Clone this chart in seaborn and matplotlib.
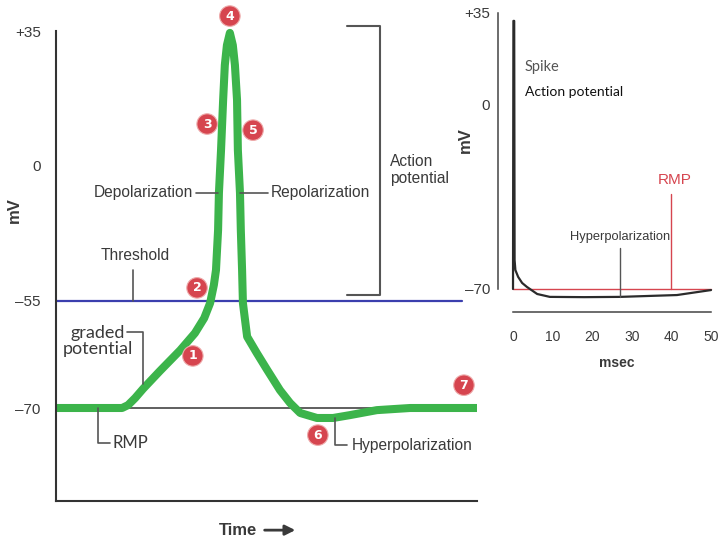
import matplotlib.pyplot as plt
import numpy as np
import seaborn as sns

# left panel: schematic action potential (time in arbitrary units, mV)
ap_time = [0, 15.7, 17.1, 18.8, 20.7, 24.7, 29.5, 33.0, 35.2, 36.6, 37.5, 38.0, 38.5, 38.7,
           39.2, 39.7, 40.1, 40.6, 41.3, 42.0, 42.5, 43.0, 43.2, 43.7, 43.9, 44.2, 44.4,
           45.4, 47.7, 50.1, 53.2, 55.6, 58.0, 62.0, 65.8, 69.8, 76.2, 84.1, 100]
ap_mv = [-70, -70, -69.6, -68.6, -67.3, -64.8, -61.9, -59.5, -57.4, -55.3, -48.5, -42.5, -26.3, -11.3,
         3.9, 17.0, 26.1, 31.3, 34.5, 31.3, 26.1, 17.0, 3.9, -11.3, -26.3, -42.5, -55.3,
         -60.0, -62.3, -64.6, -67.5, -69.3, -70.7, -71.4, -71.4, -71.0, -70.3, -70, -70]

# right panel: recorded spike (msec, mV)
rec_msec = [0, 0.1, 0.3, 0.4, 0.6, 1.3, 2.3, 3.5, 6.1, 9.3, 18, 27, 41.4, 50]
rec_mv = [-70, 32, 32, -59, -62.8, -65.4, -67.7, -69.2, -71.9, -73, -73.1, -73, -72.3, -70.4]

left_yticks = [-70, -55, 0, 35]
left_yticklabels = ["–70", "–55", "0", "+35"]
right_yticks = [-70, 0, 35]
right_yticklabels = ["–70", "0", "+35"]
right_xticks = [0, 10, 20, 30, 40, 50]

rmp = -70
threshold = -55

# the schematic is not to scale: every band of mV gets its own stretch
scale_mv = [-300, -83.04, -70, -55, 0, 35, 300]
scale_pos = [-1547, 0, 93, 200, 336, 470, 1485]

GREEN = "#3cb44b"
BLUE = "#3b3fae"
RED = "#d6454f"
INK = "#3a3a3a"
COND = ["Liberation Sans Narrow", "Liberation Sans", "DejaVu Sans"]
HUM = ["Lato", "DejaVu Sans"]

sns.set_style("white")
plt.rcParams["font.family"] = COND

fig = plt.figure(figsize=(7.2, 5.4), dpi=100)
ax = fig.add_axes([56 / 720, 39 / 540, 421 / 720, 470 / 540])
ax2 = fig.add_axes([498 / 720, 228 / 540, 215 / 720, 299 / 540])

# ---------------- left panel ----------------
ax.set_yscale("function", functions=(lambda v: np.interp(v, scale_mv, scale_pos),
                                     lambda p: np.interp(p, scale_pos, scale_mv)))
sns.lineplot(x=[0, 90], y=[rmp, rmp], ax=ax, color="#444444", linewidth=1.2)
sns.lineplot(x=[0, 96.4], y=[threshold, threshold], ax=ax, color=BLUE, linewidth=1.6)
line = sns.lineplot(x=ap_time, y=ap_mv, ax=ax, color=GREEN, linewidth=5.8,
                    estimator=None, sort=False)
line.lines[-1].set_solid_joinstyle("round")
line.lines[-1].set_solid_capstyle("butt")
line.lines[-1].set_clip_on(False)

ax.set_xlim(0, 100)
ax.set_ylim(-83.04, 35)
ax.set_xticks([])
ax.set_yticks(left_yticks)
ax.set_yticklabels(left_yticklabels)
ax.tick_params(axis="y", direction="out", length=9, width=1.2, color="#333333",
               labelsize=11, labelcolor=INK, pad=2)
for s in ["left", "bottom"]:
    ax.spines[s].set_linewidth(1.5)
    ax.spines[s].set_color("#333333")
sns.despine(ax=ax, top=True, right=True)

ax.set_ylabel("mV", fontsize=12, fontweight="bold", color=INK)
ax.yaxis.set_label_coords(-0.08, 0.62)
ax.text(0.477, -0.062, "Time", transform=ax.transAxes, ha="right", va="center",
        fontsize=12, fontweight="bold", color=INK)
ax.annotate("", xy=(0.575, -0.062), xytext=(0.489, -0.062), xycoords="axes fraction",
            arrowprops=dict(arrowstyle="-|>,head_length=0.6,head_width=0.3",
                            color=INK, lw=2))

lab = dict(color=INK, fontsize=11.2, clip_on=False)
pointer = dict(color="#555555", linewidth=1.2, clip_on=False)

ax.text(32.5, -11.3, "Depolarization", ha="right", va="center", **lab)
ax.plot([33.3, 38.5], [-11.3, -11.3], **pointer)
ax.plot([43.7, 50.4], [-11.3, -11.3], **pointer)
ax.text(51.1, -11.3, "Repolarization", ha="left", va="center", **lab)

ax.text(18.8, -36.4, "Threshold", ha="center", va="center", **lab)
ax.plot([18.3, 18.3], [threshold, -42.5], **pointer)

ax.text(10.0, -60.6, "graded\npotential", ha="center", va="center",
        family=HUM, color=INK, fontsize=13, linespacing=1.05)
ax.plot([16.9, 20.7, 20.7], [-59.3, -59.3, -66.6], **pointer)

ax.plot([10.0, 10.0, 12.8], [rmp, -74.9, -74.9], **pointer)
ax.text(13.5, -74.9, "RMP", ha="left", va="center", family=HUM, color=INK, fontsize=12)

ax.plot([66.3, 66.3, 69.1], [-71.4, -75.2, -75.2], **pointer)
ax.text(70.3, -75.2, "Hyperpolarization", ha="left", va="center", **lab)

ax.plot([69.1, 77.0, 77.0, 69.1], [36.3, 36.3, -52.6, -52.6], color="#555555",
        linewidth=1.5, clip_on=False)
ax.text(79.3, -2.0, "Action\npotential", ha="left", va="center", linespacing=1.2, **lab)

badges = [(32.5, -62.7), (33.5, -49.7), (35.9, 10.7), (41.3, 38.9),
          (46.8, 9.1), (62.2, -73.8), (96.9, -66.8)]
for i, (bx, by) in enumerate(badges, start=1):
    ax.text(bx, by, str(i), ha="center", va="center", color="white", fontsize=9,
            fontweight="bold", family=["DejaVu Sans"], clip_on=False,
            bbox=dict(boxstyle="circle,pad=0.3", fc=RED, ec="#eeaaaa", lw=0.8))

# ---------------- right panel ----------------
sns.lineplot(x=[0, 50], y=[rmp, rmp], ax=ax2, color=RED, linewidth=1.0)
ax2.plot([40, 40], [rmp, -34], color=RED, linewidth=1.0)
sns.lineplot(x=rec_msec, y=rec_mv, ax=ax2, color="#2b2b2b", linewidth=1.6,
             estimator=None, sort=False)

ax2.set_xlim(-3.79, 50.5)
ax2.set_ylim(-78.75, 35)
ax2.set_xticks(right_xticks)
ax2.set_yticks(right_yticks)
ax2.set_yticklabels(right_yticklabels)
ax2.tick_params(axis="y", direction="in", length=8.5, width=1.0, color="#444444",
                labelsize=11, labelcolor=INK, pad=5.5)
ax2.tick_params(axis="x", direction="in", length=7, width=1.0, color="#444444",
                labelsize=10, labelcolor=INK, pad=13)
sns.despine(ax=ax2, top=True, right=True)
ax2.spines["left"].set_bounds(-70, 35)
ax2.spines["bottom"].set_bounds(0, 50)
for s in ["left", "bottom"]:
    ax2.spines[s].set_linewidth(1.1)
    ax2.spines[s].set_color("#444444")

ax2.set_xlabel("msec", fontsize=10, fontweight="bold", color=INK)
ax2.xaxis.set_label_coords(0.553, -0.147)
ax2.set_ylabel("mV", fontsize=12, fontweight="bold", color=INK)
ax2.yaxis.set_label_coords(-0.116, 0.575)

ax2.text(3.0, 14.5, "Spike", ha="left", va="center", family=HUM, color="#555555", fontsize=10.5)
ax2.text(3.0, 5.0, "Action potential", ha="left", va="center", family=HUM,
         color="#111111", fontsize=10)
ax2.text(40.9, -28.5, "RMP", ha="center", va="center", color=RED, fontsize=11)
ax2.text(27, -50.2, "Hyperpolarization", ha="center", va="center", color=INK, fontsize=9.3)
ax2.plot([27, 27], [-73, -54.4], color="#555555", linewidth=1.0)

fig.savefig("out.png", dpi=100)
